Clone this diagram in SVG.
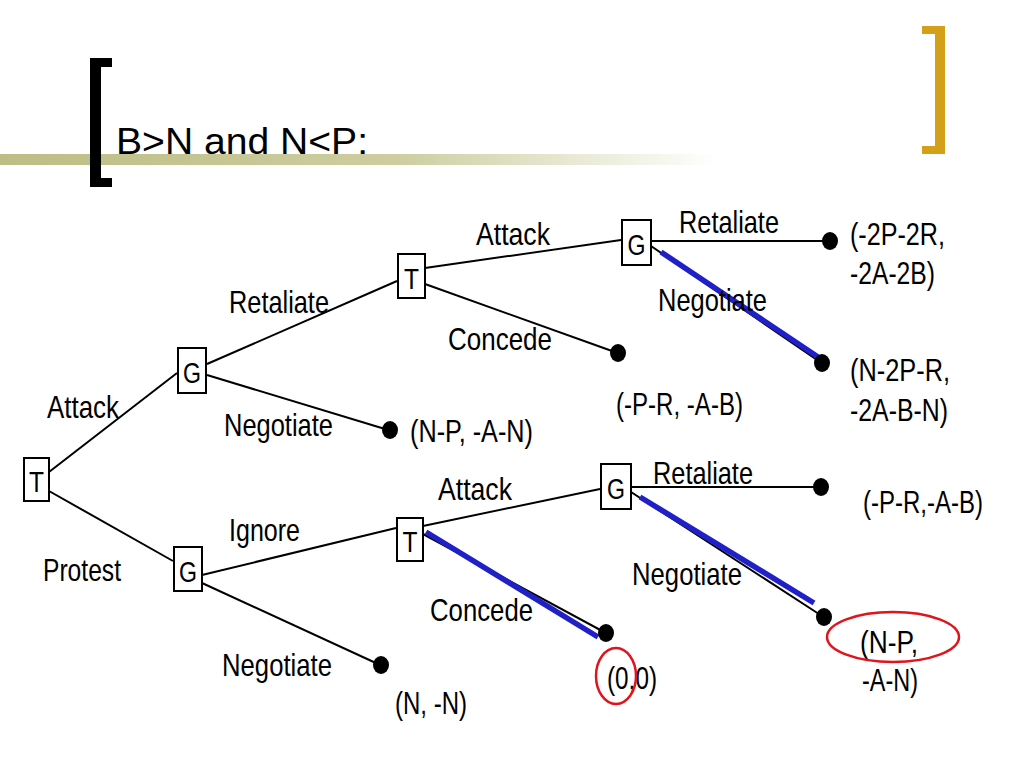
<svg xmlns="http://www.w3.org/2000/svg" width="1024" height="768" viewBox="0 0 1024 768">
<defs>
<linearGradient id="bar" x1="0" y1="0" x2="1" y2="0">
<stop offset="0" stop-color="#BDBD86"/>
<stop offset="0.55" stop-color="#CDCDA0"/>
<stop offset="1" stop-color="#FFFFFF"/>
</linearGradient>
<style>
.lbl{font-family:"Liberation Sans",Arial,sans-serif;font-size:32px;fill:#000}
.nd rect{fill:#fff;stroke:#000;stroke-width:2}
.nd text{font-family:"Liberation Sans",Arial,sans-serif;font-size:29px;fill:#000;text-anchor:middle}
.e{stroke:#000;stroke-width:2;fill:none}
.b{stroke:#2020C8;stroke-width:5.5;fill:none}
.dot{fill:#000}
.ring{fill:none;stroke:#E0141C;stroke-width:2.5}
</style>
</defs>
<rect width="1024" height="768" fill="#fff"/>
<g id="title">
<rect x="0" y="154" width="720" height="11" fill="url(#bar)"/>
<rect x="90" y="58" width="11" height="129" fill="#000"/>
<rect x="90" y="58" width="22" height="9" fill="#000"/>
<rect x="90" y="178" width="22" height="9" fill="#000"/>
<rect x="935" y="26" width="10" height="128" fill="#D4A017"/>
<rect x="922" y="26" width="23" height="8" fill="#D4A017"/>
<rect x="922" y="146" width="23" height="8" fill="#D4A017"/>
<text x="116" y="154" font-family="Liberation Sans, Arial, sans-serif" font-size="36" textLength="252" lengthAdjust="spacingAndGlyphs">B&gt;N and N&lt;P:</text>
</g>
<g id="connectors">
<line class="e" x1="49" y1="472" x2="177" y2="373"/>
<line class="e" x1="49" y1="491" x2="173" y2="561"/>
<line class="e" x1="207" y1="364" x2="397" y2="281"/>
<line class="e" x1="207" y1="375" x2="385" y2="429"/>
<line class="e" x1="425" y1="268" x2="621" y2="240"/>
<line class="e" x1="425" y1="284" x2="612" y2="351"/>
<line class="e" x1="651" y1="241" x2="828" y2="241"/>
<line class="e" x1="651" y1="246" x2="820" y2="362"/>
<line class="b" x1="661" y1="252" x2="818" y2="357"/>
<line class="e" x1="202" y1="575" x2="396" y2="528"/>
<line class="e" x1="202" y1="583" x2="378" y2="664"/>
<line class="e" x1="423" y1="526" x2="600" y2="489"/>
<line class="e" x1="423" y1="534" x2="604" y2="632"/>
<line class="b" x1="426" y1="532" x2="598" y2="637"/>
<line class="e" x1="631" y1="487" x2="820" y2="487"/>
<line class="e" x1="631" y1="492" x2="822" y2="616"/>
<line class="b" x1="640" y1="497" x2="814" y2="603"/>
<ellipse class="dot" cx="390" cy="430" rx="8" ry="9"/>
<ellipse class="dot" cx="618" cy="353" rx="8" ry="9"/>
<ellipse class="dot" cx="830" cy="241" rx="8" ry="9"/>
<ellipse class="dot" cx="822" cy="363" rx="8" ry="9"/>
<ellipse class="dot" cx="381" cy="665" rx="8" ry="9"/>
<ellipse class="dot" cx="606" cy="633" rx="8" ry="9"/>
<ellipse class="dot" cx="821" cy="487" rx="8" ry="9"/>
<ellipse class="dot" cx="824" cy="617" rx="8" ry="9"/>
</g>
<g id="n_T0" class="nd"><rect x="24" y="458" width="25" height="43"/><text x="36.5" y="492" textLength="15" lengthAdjust="spacingAndGlyphs">T</text></g>
<g id="n_G1" class="nd"><rect x="178" y="348" width="28" height="45"/><text x="192" y="383" textLength="18" lengthAdjust="spacingAndGlyphs">G</text></g>
<g id="n_G2" class="nd"><rect x="174" y="547" width="28" height="44"/><text x="188" y="582" textLength="18" lengthAdjust="spacingAndGlyphs">G</text></g>
<g id="n_T1" class="nd"><rect x="398" y="254" width="27" height="44"/><text x="411.5" y="289" textLength="15" lengthAdjust="spacingAndGlyphs">T</text></g>
<g id="n_T2" class="nd"><rect x="397" y="518" width="26" height="43"/><text x="410" y="552" textLength="15" lengthAdjust="spacingAndGlyphs">T</text></g>
<g id="n_G3" class="nd"><rect x="622" y="220" width="29" height="45"/><text x="636.5" y="255" textLength="18" lengthAdjust="spacingAndGlyphs">G</text></g>
<g id="n_G4" class="nd"><rect x="601" y="464" width="30" height="45"/><text x="616" y="499" textLength="18" lengthAdjust="spacingAndGlyphs">G</text></g>
<g id="labels">
<text class="lbl" x="47" y="418" textLength="72" lengthAdjust="spacingAndGlyphs">Attack</text>
<text class="lbl" x="43" y="581" textLength="78" lengthAdjust="spacingAndGlyphs">Protest</text>
<text class="lbl" x="229" y="313" textLength="100" lengthAdjust="spacingAndGlyphs">Retaliate</text>
<text class="lbl" x="224" y="436" textLength="109" lengthAdjust="spacingAndGlyphs">Negotiate</text>
<text class="lbl" x="410" y="442" textLength="123" lengthAdjust="spacingAndGlyphs">(N-P, -A-N)</text>
<text class="lbl" x="476" y="245" textLength="74" lengthAdjust="spacingAndGlyphs">Attack</text>
<text class="lbl" x="448" y="350" textLength="104" lengthAdjust="spacingAndGlyphs">Concede</text>
<text class="lbl" x="679" y="233" textLength="100" lengthAdjust="spacingAndGlyphs">Retaliate</text>
<text class="lbl" x="658" y="311" textLength="109" lengthAdjust="spacingAndGlyphs">Negotiate</text>
<text class="lbl" x="850" y="245" textLength="95" lengthAdjust="spacingAndGlyphs">(-2P-2R,</text>
<text class="lbl" x="850" y="284" textLength="85" lengthAdjust="spacingAndGlyphs">-2A-2B)</text>
<text class="lbl" x="616" y="415" textLength="127" lengthAdjust="spacingAndGlyphs">(-P-R, -A-B)</text>
<text class="lbl" x="850" y="381" textLength="100" lengthAdjust="spacingAndGlyphs">(N-2P-R,</text>
<text class="lbl" x="850" y="421" textLength="98" lengthAdjust="spacingAndGlyphs">-2A-B-N)</text>
<text class="lbl" x="229" y="541" textLength="71" lengthAdjust="spacingAndGlyphs">Ignore</text>
<text class="lbl" x="438" y="500" textLength="74" lengthAdjust="spacingAndGlyphs">Attack</text>
<text class="lbl" x="653" y="484" textLength="100" lengthAdjust="spacingAndGlyphs">Retaliate</text>
<text class="lbl" x="863" y="513" textLength="120" lengthAdjust="spacingAndGlyphs">(-P-R,-A-B)</text>
<text class="lbl" x="430" y="621" textLength="103" lengthAdjust="spacingAndGlyphs">Concede</text>
<text class="lbl" x="632" y="585" textLength="110" lengthAdjust="spacingAndGlyphs">Negotiate</text>
<text class="lbl" x="222" y="676" textLength="110" lengthAdjust="spacingAndGlyphs">Negotiate</text>
<text class="lbl" x="395" y="714" textLength="72" lengthAdjust="spacingAndGlyphs">(N, -N)</text>
<text class="lbl" x="607" y="689" textLength="50" lengthAdjust="spacingAndGlyphs">(0,0)</text>
<text class="lbl" x="860" y="653" textLength="58" lengthAdjust="spacingAndGlyphs">(N-P,</text>
<text class="lbl" x="862" y="691" textLength="56" lengthAdjust="spacingAndGlyphs">-A-N)</text>
</g>
<g id="highlights">
<ellipse class="ring" cx="893" cy="637" rx="66" ry="25"/>
<ellipse class="ring" cx="616" cy="676" rx="20" ry="28"/>
</g>
</svg>
